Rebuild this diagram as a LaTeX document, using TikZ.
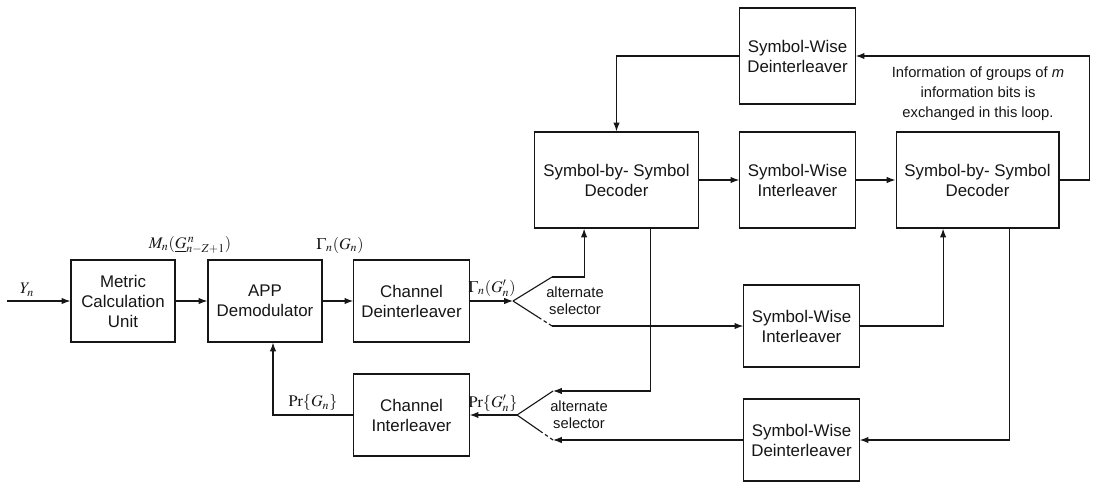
\documentclass[tikz,border=0pt]{standalone}
\usepackage{mathptmx}
\usepackage[no-math]{fontspec}
\setmainfont{Liberation Sans}
\usetikzlibrary{arrows.meta, calc}
\definecolor{bdInk}{HTML}{161616}
\tikzset{
  blk/.style={
    draw=bdInk, line width=0.8pt, fill=white, inner sep=0pt, align=center,
    font=\fontsize{12}{14.2}\selectfont, text=bdInk,
    minimum height=2.05cm, minimum width=2.88cm
  },
  decblk/.style={blk, minimum width=4.1cm, minimum height=2.4cm},
  swblk/.style={blk, minimum height=2.4cm},
  flow/.style={-{Latex[length=2.2mm, width=1.6mm]}, line width=0.8pt, draw=bdInk},
  wire/.style={line width=0.8pt, draw=bdInk},
  swdash/.style={wire, dash pattern=on 2.5pt off 2pt},
  lbl/.style={font=\fontsize{11.5}{13}\selectfont, text=bdInk, inner sep=1pt},
  note/.style={font=\fontsize{10.5}{12}\selectfont, text=bdInk, align=center, inner sep=0pt},
}

\begin{document}
\begin{tikzpicture}[x=0.025cm, y=-0.025cm]
  \useasboundingbox (0,0) rectangle (1096,487);

  % front end
  \node[blk, minimum width=2.6cm] (mcu) at (123,301) {Metric\\Calculation\\Unit};
  \node[blk, minimum width=2.85cm] (app) at (265,301) {APP\\Demodulator};
  \node[blk] (cdi) at (411.5,301) {Channel\\Deinterleaver};
  \node[blk] (cin) at (411.5,415) {Channel\\Interleaver};

  % decoder loop
  \node[swblk] (swd1) at (797.5,56) {Symbol-Wise\\Deinterleaver};
  \node[decblk] (dec1) at (616.5,180) {Symbol-by- Symbol\\Decoder};
  \node[swblk] (swi1) at (797.5,180) {Symbol-Wise\\Interleaver};
  \node[decblk, minimum width=4.07cm] (dec2) at (977.5,180) {Symbol-by- Symbol\\Decoder};
  \node[blk] (swi2) at (801.5,326) {Symbol-Wise\\Interleaver};
  \node[blk] (swd2) at (801.5,440) {Symbol-Wise\\Deinterleaver};

  % switch points
  \coordinate (yin) at (7,301);
  \coordinate (pv1) at (513,301);
  \coordinate (s1a) at (552,277);
  \coordinate (s1b) at (552,326);
  \coordinate (pv2) at (517,415);
  \coordinate (s2a) at (553,391);
  \coordinate (s2b) at (553,440);

  \draw[flow] (yin) -- (mcu);
  \draw[flow] (mcu) -- (app);
  \draw[flow] (app) -- (cdi);
  \draw[flow] (cdi) -- (pv1);
  \draw[wire] (pv1) -- (s1a);
  \draw[flow] (s1a) -| ([xshift=-0.81cm]dec1.south);
  \draw[wire] (pv1) -- ($(pv1)!0.65!(s1b)$);
  \draw[swdash] ($(pv1)!0.65!(s1b)$) -- (s1b);
  \draw[flow] (s1b) -- (swi2);

  \draw[flow] ([xshift=0.84cm]dec1.south) |- (s2a);
  \draw[wire] (s2a) -- (pv2);
  \draw[flow] (pv2) -- (cin);
  \draw[flow] (swd2) -- (s2b);
  \draw[swdash] (s2b) -- ($(s2b)!0.35!(pv2)$);
  \draw[wire] ($(s2b)!0.35!(pv2)$) -- (pv2);
  \draw[flow] (cin) -| ([xshift=0.2cm]app.south);

  \draw[flow] (dec1) -- (swi1);
  \draw[flow] (swi1) -- (dec2);
  \draw[flow] (dec2.east) -- ++(30,0) |- (swd1.east);
  \draw[flow] (swd1.west) -| (dec1.north);
  \draw[flow] (swi2) -| ([xshift=-0.86cm]dec2.south);
  \draw[flow] ([xshift=0.81cm]dec2.south) |- (swd2);

  % labels
  \node[lbl] (lyn) at (27,290) {$Y_n$};
  \node[lbl] (lmn) at (190,245) {$M_n(\underline{G}^{\,n}_{n-Z+1})$};
  \node[lbl] (lgn) at (340,245) {$\Gamma_n(G_n)$};
  \node[lbl] (lgp) at (492,288) {$\Gamma_n(G'_n)$};
  \node[lbl] (lpg) at (313,403) {$\mathrm{Pr}\{G_n\}$};
  \node[lbl] (lpp) at (493,403) {$\mathrm{Pr}\{G'_n\}$};
  \node[note] (sel1) at (575,301) {alternate\\selector};
  \node[note] (sel2) at (579,415) {alternate\\selector};
  \node[note, font=\fontsize{10.5}{14.2}\selectfont] (loop) at (978,94)
    {Information of groups of \emph{m}\\information bits is\\exchanged in this loop.};
\end{tikzpicture}
\end{document}
